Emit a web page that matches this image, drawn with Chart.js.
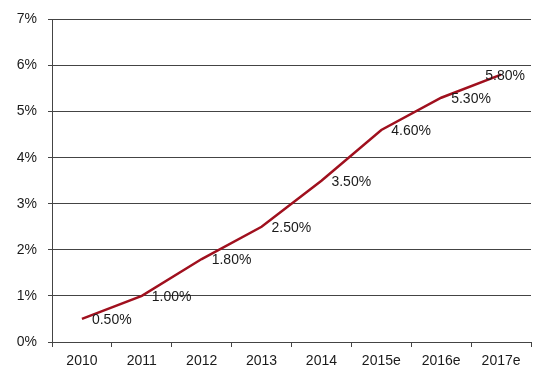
<!DOCTYPE html>
<html><head><meta charset="utf-8">
<script src="https://cdn.jsdelivr.net/npm/chart.js@4"></script>
<style>html,body{margin:0;padding:0;background:#fff}#wrap{width:550px;height:381px}</style>
</head><body><div id="wrap"><canvas id="c" width="550" height="381"></canvas></div>
<script>
const categories = ['2010','2011','2012','2013','2014','2015e','2016e','2017e'];
const growthValues = [0.5, 1.0, 1.8, 2.5, 3.5, 4.6, 5.3, 5.8];
const valueLabels = ['0.50%','1.00%','1.80%','2.50%','3.50%','4.60%','5.30%','5.80%'];
const yTicks = [0,1,2,3,4,5,6,7];

const FONT = '"Liberation Sans", Arial, sans-serif';

const labelPlugin = {
  id: 'valueLabels',
  afterDatasetsDraw(chart) {
    const ctx = chart.ctx;
    const meta = chart.getDatasetMeta(0);
    ctx.save();
    ctx.font = '14px ' + FONT;
    ctx.fillStyle = '#1a1a1a';
    ctx.textBaseline = 'middle';
    meta.data.forEach((pt, i) => {
      const txt = valueLabels[i];
      const w = ctx.measureText(txt).width;
      let x = pt.x + 10;
      if (x + w > chart.chartArea.right - 6) x = chart.chartArea.right - 6 - w;
      ctx.fillText(txt, x, pt.y + 1);
    });
    ctx.restore();
  }
};

new Chart(document.getElementById('c'), {
  type: 'line',
  data: {
    labels: categories,
    datasets: [{
      data: growthValues,
      borderColor: '#A0101E',
      borderWidth: 2.5,
      pointRadius: 0,
      tension: 0,
      fill: false
    }]
  },
  options: {
    responsive: false,
    animation: false,
    devicePixelRatio: 1,
    layout: { padding: { left: 0, right: 19, top: 18, bottom: 0 } },
    plugins: { legend: { display: false }, tooltip: { enabled: false } },
    scales: {
      x: {
        offset: true,
        grid: { offset: true, drawOnChartArea: false, drawTicks: true, tickLength: 5, color: '#444', lineWidth: 1 },
        border: { color: '#444', width: 1 },
        ticks: { color: '#1a1a1a', font: { family: FONT, size: 14 }, padding: 6, maxRotation: 0, autoSkip: false },
        afterFit(s) { s.height = 39; }
      },
      y: {
        min: 0, max: 7,
        afterBuildTicks(s) { s.ticks = yTicks.map(v => ({ value: v })); },
        grid: { color: '#444', lineWidth: 1, tickLength: 4, drawTicks: true },
        border: { color: '#444', width: 1 },
        ticks: { color: '#1a1a1a', font: { family: FONT, size: 14 }, padding: 11, callback: v => v + '%' },
        afterFit(s) { s.width = 52; }
      }
    }
  },
  plugins: [labelPlugin]
});
</script>
</body></html>
